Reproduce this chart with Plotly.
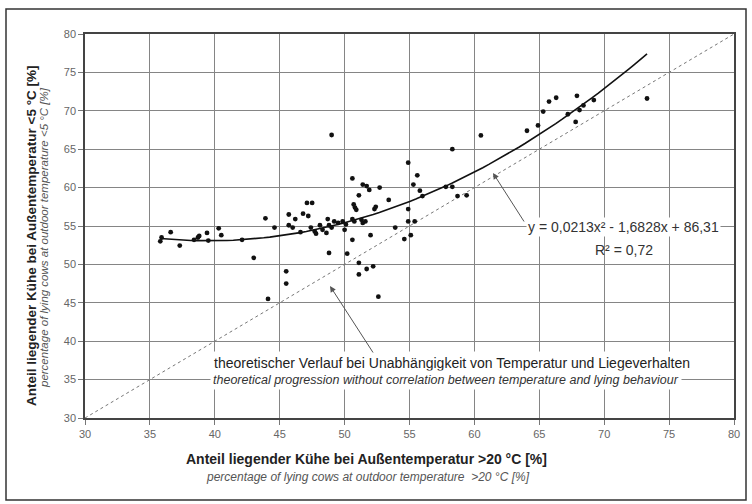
import plotly.graph_objects as go

# ---- data ----
x_warm = [35.8, 35.9, 36.6, 37.3, 38.4, 38.7, 38.8, 39.4, 39.5, 40.3, 40.5, 42.1, 43.0, 43.9, 44.1,
          44.6, 45.5, 45.5, 45.7, 45.7, 46.0, 46.2, 46.6, 46.8, 47.1, 47.2, 47.4, 47.5, 47.7, 47.8,
          48.1, 48.3, 48.6, 48.7, 48.8, 48.8, 49.0, 49.0, 49.2, 49.5, 49.85, 50.0, 50.1, 50.2, 50.6,
          50.6, 50.6, 50.7, 50.75, 50.8, 50.9, 51.1, 51.1, 51.1, 51.3, 51.4, 51.4, 51.6, 51.7, 51.7,
          51.9, 52.0, 52.2, 52.3, 52.4, 52.6, 52.7, 53.4, 53.9, 54.6, 54.9, 54.9, 54.9, 55.1, 55.3,
          55.4, 55.6, 55.8, 56.0, 57.8, 58.3, 58.3, 58.7, 59.4, 60.5, 64.05, 64.9, 65.3, 65.75, 66.3,
          67.2, 67.8, 67.9, 68.1, 68.4, 69.2, 73.3]
y_cold = [53.0, 53.5, 54.2, 52.45, 53.2, 53.5, 53.7, 54.1, 53.1, 54.7, 53.8, 53.2, 50.85, 56.0, 45.5,
          54.8, 49.1, 47.5, 56.5, 55.1, 54.8, 55.9, 54.2, 56.6, 58.0, 56.3, 54.8, 58.0, 54.3, 54.0,
          55.1, 54.5, 54.1, 55.9, 55.1, 51.5, 54.8, 66.85, 55.6, 55.4, 55.6, 54.5, 55.2, 51.4, 55.9,
          53.2, 61.2, 57.8, 55.6, 57.4, 57.1, 59.0, 50.2, 48.7, 55.8, 55.4, 60.4, 55.6, 60.2, 49.4,
          59.7, 53.8, 49.75, 57.2, 57.5, 45.8, 60.0, 58.4, 54.8, 53.3, 63.25, 57.2, 55.6, 53.8, 60.4,
          55.6, 61.6, 59.6, 58.9, 60.1, 60.1, 65.0, 58.9, 59.0, 66.8, 67.4, 68.1, 69.9, 71.2, 71.7,
          69.55, 68.55, 71.95, 70.1, 70.7, 71.4, 71.6]

# regression shown on the chart: y = 0,0213x² - 1,6828x + 86,31
fit_a, fit_b, fit_c = 0.0213, -1.6828, 86.31
fit_x = [35.8 + i * (73.3 - 35.8) / 80 for i in range(81)]
fit_y = [fit_a * v * v + fit_b * v + fit_c for v in fit_x]

diag_x = [30, 80]
diag_y = [30, 80]

tick_vals = [30, 35, 40, 45, 50, 55, 60, 65, 70, 75, 80]

# ---- layout geometry (pixels) ----
W, H = 752, 504
ML, MR, MT, MB = 85, 18, 34, 86
PW, PH = W - ML - MR, H - MT - MB


def px(x):
    return (x - ML) / PW


def py(y):
    return (H - MB - y) / PH


FONT = "Liberation Sans, Arial, sans-serif"

fig = go.Figure()
fig.add_trace(go.Scatter(x=diag_x, y=diag_y, mode="lines",
                         line=dict(color="#777777", width=1, dash="dot"), hoverinfo="skip"))
fig.add_trace(go.Scatter(x=fit_x, y=fit_y, mode="lines",
                         line=dict(color="#111111", width=1.6), hoverinfo="skip"))
fig.add_trace(go.Scatter(x=x_warm, y=y_cold, mode="markers",
                         marker=dict(color="#111111", size=4.8)))

axis_common = dict(range=[30, 80], tickvals=tick_vals, showgrid=True, gridcolor="#858585",
                   gridwidth=1, zeroline=False, showline=True, linecolor="#444444", linewidth=1.5,
                   mirror=True, ticks="outside", ticklen=5, tickcolor="#777777",
                   tickfont=dict(family=FONT, size=11, color="#666666"))

fig.update_layout(
    width=W, height=H, margin=dict(l=ML, r=MR, t=MT, b=MB),
    paper_bgcolor="white", plot_bgcolor="white", showlegend=False,
    xaxis=dict(**axis_common),
    yaxis=dict(**axis_common),
)

annotations = [
    # x axis titles
    dict(x=px(366), y=py(459), text="<b>Anteil liegender Kühe bei Außentemperatur >20 °C [%]</b>",
         font=dict(family=FONT, size=14, color="#222222")),
    dict(x=px(368), y=py(477), text="<i>percentage of lying cows at outdoor temperature  >20 °C [%]</i>",
         font=dict(family=FONT, size=12, color="#555555")),
    # y axis titles
    dict(x=px(31), y=py(236), textangle=-90,
         text="<b>Anteil liegender Kühe bei Außentemperatur <5 °C [%]</b>",
         font=dict(family=FONT, size=13.5, color="#222222")),
    dict(x=px(44), y=py(238), textangle=-90,
         text="<i>percentage of lying cows at outdoor temperature <5 °C [%]</i>",
         font=dict(family=FONT, size=11.5, color="#555555")),
    # equation
    dict(x=px(623), y=py(227), text="y = 0,0213x² - 1,6828x + 86,31", bgcolor="white",
         font=dict(family=FONT, size=14, color="#333333")),
    dict(x=px(624), y=py(250), text="R² = 0,72",
         font=dict(family=FONT, size=14, color="#333333")),
    # theoretical line text
    dict(x=px(452), y=py(363), text="theoretischer Verlauf bei Unabhängigkeit von Temperatur und Liegeverhalten",
         bgcolor="white", borderpad=3, font=dict(family=FONT, size=14, color="#222222")),
    dict(x=px(446), y=py(380), text="<i>theoretical progression without correlation between temperature and lying behaviour</i>",
         bgcolor="white", borderpad=2, font=dict(family=FONT, size=12.5, color="#333333")),
]
for a in annotations:
    a.update(xref="paper", yref="paper", showarrow=False, xanchor="center", yanchor="middle")
    fig.add_annotation(**a)

# arrows (head position in paper coords, tail as pixel offset)
fig.add_annotation(x=px(493), y=py(173), ax=32, ay=50, xref="paper", yref="paper",
                   axref="pixel", ayref="pixel", text="", showarrow=True, arrowhead=2,
                   arrowsize=1.2, arrowwidth=1, arrowcolor="#555555")
fig.add_annotation(x=px(330), y=py(286), ax=44, ay=68, xref="paper", yref="paper",
                   axref="pixel", ayref="pixel", text="", showarrow=True, arrowhead=2,
                   arrowsize=1.2, arrowwidth=1, arrowcolor="#555555")

# outer frame
fig.add_shape(type="rect", xref="paper", yref="paper", x0=px(6), x1=px(746), y0=py(500), y1=py(9),
              line=dict(color="#333333", width=1.5), layer="below")

fig.write_html("out.html", config={"displayModeBar": False},
               post_script="document.body.style.margin='0px';")
